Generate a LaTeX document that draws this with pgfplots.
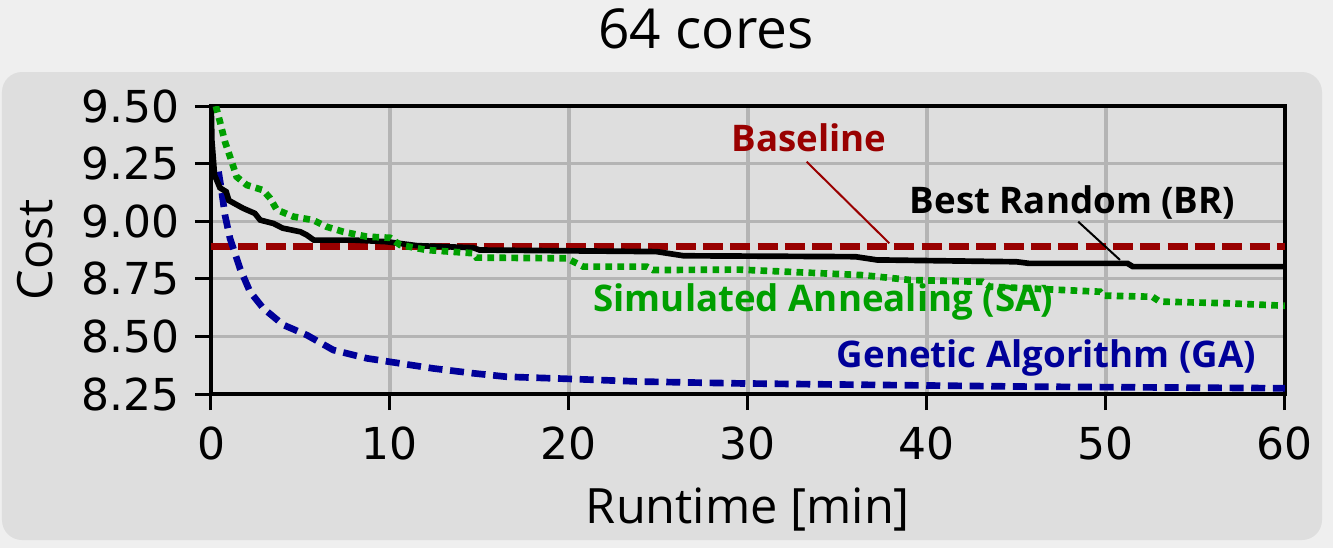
\documentclass[border=0pt]{standalone}
\usepackage{fontspec}
\setmainfont{Open Sans}
\newfontfamily\dejavu{DejaVu Sans}
\usepackage{pgfplots}
\pgfplotsset{compat=1.18}

\definecolor{bgouter}{HTML}{EFEFEF}
\definecolor{bginner}{HTML}{DEDEDE}
\definecolor{gridgray}{HTML}{B4B4B4}
\definecolor{basered}{HTML}{990000}
\definecolor{sagreen}{HTML}{009F00}
\definecolor{gablue}{HTML}{000099}

\begin{document}
\begin{tikzpicture}
% backgrounds (axis origin sits at 0,0; 1px = 0.3pt)
\fill[bgouter] (-63.3pt,-46.2pt) rectangle (336.6pt,118.2pt);
\fill[bginner, rounded corners=6pt] (-62.7pt,-43.8pt) rectangle (333.3pt,96.6pt);
\begin{axis}[
    scale only axis,
    width=322.2pt, height=86.4pt,
    xmin=0, xmax=60, ymin=8.25, ymax=9.5,
    xtick={0,10,20,30,40,50,60},
    ytick={8.25,8.5,8.75,9,9.25,9.5},
    xtick pos=bottom, ytick pos=left,
    tick align=outside,
    major tick length=4.8pt,
    every tick/.style={black, line width=0.9pt},
    axis line style={line width=1pt},
    grid=major,
    major grid style={color=gridgray, line width=1pt},
    /pgf/number format/assume math mode=true,
    ticklabel style={font=\dejavu\fontsize{13.2}{16}\selectfont},
    x tick label style={yshift=-1.5pt},
    y tick label style={xshift=-1.2pt, /pgf/number format/.cd, fixed, fixed zerofill, precision=2, /tikz/.cd},
    title={64 cores},
    title style={font=\fontsize{16.5}{20}\selectfont, inner sep=0pt, at={(axis description cs:0.4609,1)}, anchor=base, yshift=11.4pt},
    xlabel={Runtime [min]},
    ylabel={Cost},
    xlabel style={font=\fontsize{14.6}{17}\selectfont, inner sep=0pt, at={(axis description cs:0.5,0)}, anchor=base, yshift=-38.8pt},
    every axis y label/.style={font=\fontsize{14.6}{17}\selectfont, inner sep=0pt, at={(axis description cs:0,0.5)}, xshift=-47.4pt, rotate=90, anchor=base},
]
% Baseline
\addplot[basered, line width=2pt, dash pattern=on 6pt off 2.2pt] coordinates {(0,8.89) (60,8.89)};
% Genetic Algorithm
\addplot[gablue, line width=2pt, dash pattern=on 4.2pt off 2.3pt] coordinates {
    (0.42,9.215) (0.6,9.128) (0.78,9.027) (1.06,8.926) (1.62,8.795)
    (2.18,8.694) (2.92,8.622) (4.04,8.55) (5.35,8.506) (6.83,8.441)
    (8.7,8.405) (10.56,8.383) (12.42,8.361) (14.65,8.34) (16.5,8.325)
    (20.24,8.315) (23.97,8.304) (29.55,8.296) (34.2,8.292) (45.75,8.282)
    (60,8.275)
};
% Best Random
\addplot[black, line width=1.7pt] coordinates {
    (0,9.55) (0.05,9.35) (0.2,9.20) (0.5,9.145) (0.85,9.128) (1.0,9.09)
    (1.8,9.056) (2.45,9.034) (2.75,9.005) (3.5,8.99) (4.0,8.97) (5.0,8.954)
    (5.35,8.94) (5.75,8.918) (8.0,8.918) (9.8,8.911) (10.5,8.904)
    (11.5,8.894) (13.2,8.889) (14.65,8.885) (15.0,8.875) (24.9,8.868)
    (26.4,8.85) (36.0,8.846) (37.2,8.832) (45.0,8.824) (45.7,8.817)
    (51.2,8.817) (51.5,8.803) (60,8.803)
};
% Simulated Annealing
\addplot[sagreen, line width=2pt, dash pattern=on 2pt off 1.6pt] coordinates {
    (0.1,9.55) (0.5,9.432) (0.78,9.345) (1.16,9.258) (1.43,9.193)
    (2.0,9.157) (2.9,9.135) (3.3,9.10) (3.67,9.05) (4.6,9.02) (5.7,9.005)
    (6.46,8.976) (7.4,8.954) (8.7,8.933) (10.0,8.928) (10.56,8.897)
    (12.05,8.875) (13.35,8.868) (14.65,8.861) (14.84,8.842) (19.87,8.839)
    (20.8,8.803) (24.34,8.803) (24.7,8.788) (29.5,8.79) (36.4,8.766)
    (39.05,8.745) (43.1,8.737) (43.5,8.716) (49.66,8.694) (49.85,8.677)
    (52.6,8.672) (53.0,8.651) (56.74,8.644) (60,8.633)
};
% annotations
\draw[basered, line width=0.6pt] (axis cs:33.28,9.258) -- (axis cs:37.9,8.904);
\draw[black, line width=0.6pt] (axis cs:48.45,8.998) -- (axis cs:50.78,8.832);
\node[basered, font=\bfseries\fontsize{11}{13}\selectfont] at (axis cs:33.41,9.361) {Baseline};
\node[black, font=\bfseries\fontsize{11}{13}\selectfont] at (axis cs:48.13,9.083) {Best Random (BR)};
\node[sagreen, font=\bfseries\fontsize{11}{13}\selectfont] at (axis cs:34.21,8.65) {Simulated Annealing (SA)};
\node[gablue, font=\bfseries\fontsize{11}{13}\selectfont] at (axis cs:46.68,8.406) {Genetic Algorithm (GA)};
\end{axis}
\end{tikzpicture}
\end{document}
